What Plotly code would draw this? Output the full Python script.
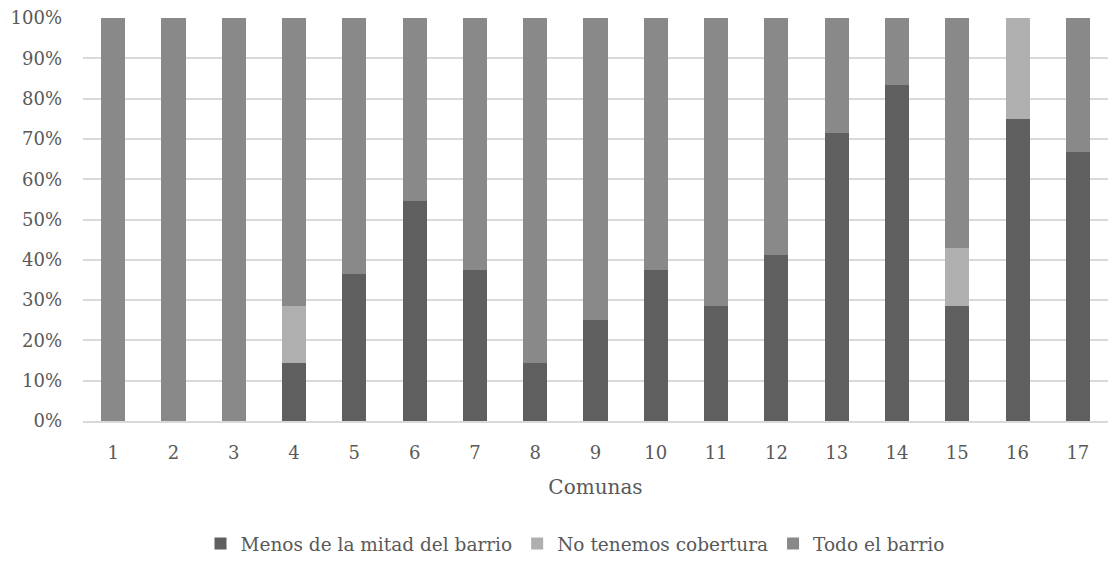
import plotly.graph_objects as go

comunas = [str(i) for i in range(1, 18)]
menos_mitad = [0, 0, 0, 14.3, 36.4, 54.5, 37.5, 14.3, 25.0, 37.5, 28.6, 41.2, 71.4, 83.3, 28.6, 75.0, 66.7]
sin_cobertura = [0, 0, 0, 14.3, 0, 0, 0, 0, 0, 0, 0, 0, 0, 0, 14.3, 25.0, 0]
todo_barrio = [100, 100, 100, 71.4, 63.6, 45.5, 62.5, 85.7, 75.0, 62.5, 71.4, 58.8, 28.6, 16.7, 57.1, 0, 33.3]
y_ticks = [0, 10, 20, 30, 40, 50, 60, 70, 80, 90, 100]
y_labels = ["0%", "10%", "20%", "30%", "40%", "50%", "60%", "70%", "80%", "90%", "100%"]

FONT = "DejaVu Serif"
TEXT = "#595959"

fig = go.Figure()
fig.add_trace(go.Bar(name="Menos de la mitad del barrio", x=comunas, y=menos_mitad,
                     marker_color="#5f5f5f"))
fig.add_trace(go.Bar(name="No tenemos cobertura", x=comunas, y=sin_cobertura,
                     marker_color="#afafaf"))
fig.add_trace(go.Bar(name="Todo el barrio", x=comunas, y=todo_barrio,
                     marker_color="#898989"))

fig.update_traces(marker_line_width=0)

fig.update_layout(
    barmode="stack",
    bargap=0.6,
    width=1100,
    height=555,
    margin=dict(l=75, r=0, t=10, b=140),
    plot_bgcolor="white",
    paper_bgcolor="white",
    font=dict(family=FONT, size=18, color=TEXT),
    legend=dict(orientation="h", x=0.48, xanchor="center", y=-0.305, yanchor="middle",
                font=dict(family=FONT, size=18.5, color=TEXT), itemwidth=30,
                traceorder="normal"),
)
fig.update_xaxes(
    title=dict(text="Comunas", standoff=18, font=dict(family=FONT, size=20, color=TEXT)),
    showgrid=False, showline=True, linecolor="#d9d9d9", linewidth=2,
    ticks="", tickfont=dict(family=FONT, size=18, color=TEXT), automargin=False,
    ticklabelstandoff=14,
)
fig.update_yaxes(
    range=[0, 100.001], tickvals=y_ticks, ticktext=y_labels,
    showgrid=True, gridcolor="#d9d9d9", gridwidth=2,
    zeroline=False, tickfont=dict(family=FONT, size=18, color=TEXT),
    ticklabelstandoff=20, automargin=False, ticklabeloverflow="allow",
)

fig.write_html("out.html")
